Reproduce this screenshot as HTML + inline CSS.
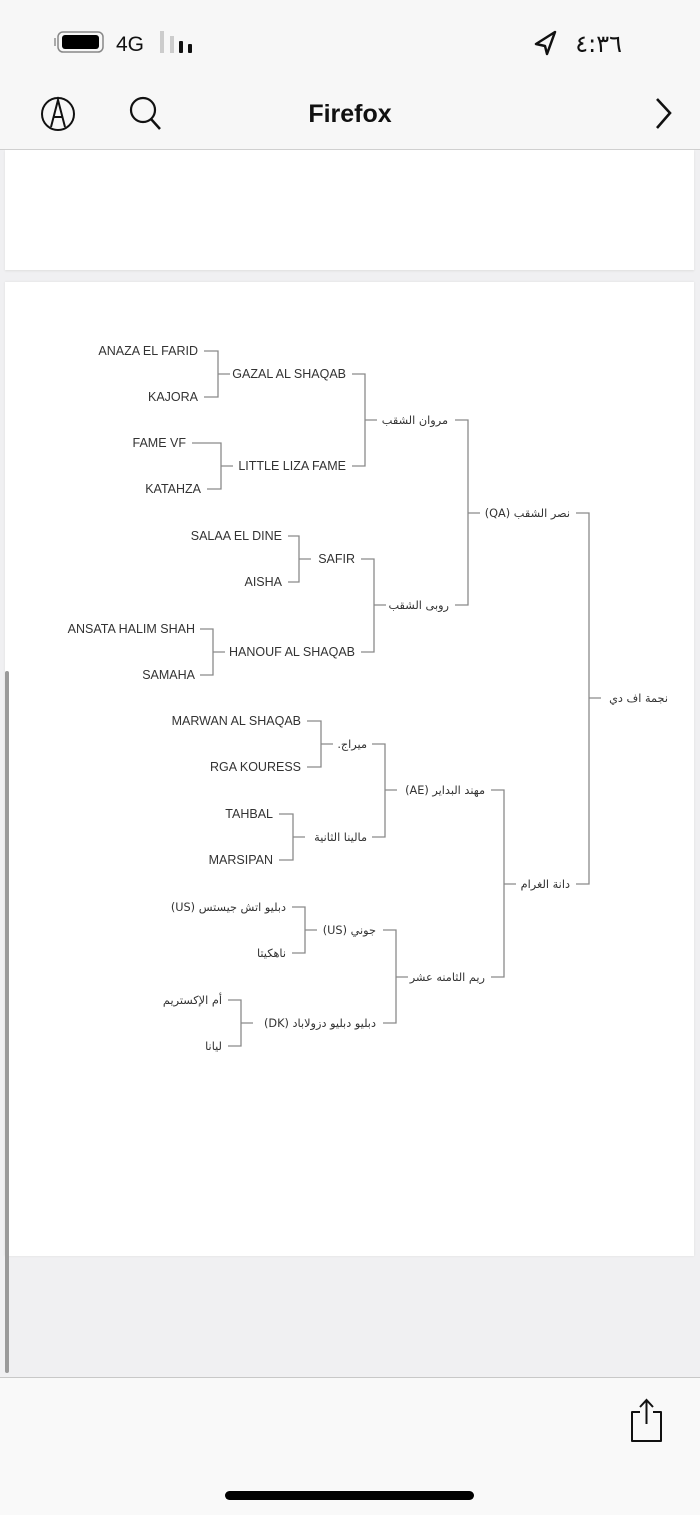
<!DOCTYPE html>
<html><head><meta charset="utf-8"><style>
html,body{margin:0;padding:0}
body{width:700px;height:1514px;background:#f0f0f2;position:relative;overflow:hidden;font-family:"Liberation Sans","DejaVu Sans",sans-serif}
.abs{position:absolute}
</style></head><body>
<div class="abs" style="left:0;top:0;width:700px;height:149px;background:#f7f7f7;border-bottom:1px solid #cfcfcf"></div>
<div class="abs" style="left:5px;top:150px;width:689px;height:120px;background:#fff;box-shadow:0 1px 2px #ddd"></div>
<div class="abs" style="left:5px;top:282px;width:689px;height:974px;background:#fff;box-shadow:0 0 2px #ddd"></div>
<div class="abs" style="left:5px;top:671px;width:4px;height:702px;background:#9a9a9a;border-radius:2px"></div>
<div class="abs" style="left:0;top:1377px;width:700px;height:137px;background:#f9f9f9;border-top:1px solid #c8c8c8"></div>
<div class="abs" style="left:225px;top:1491px;width:249px;height:9px;background:#000;border-radius:5px"></div>

<svg class="abs" style="left:0;top:0" width="700" height="1514" xmlns="http://www.w3.org/2000/svg">
 <rect x="58" y="32" width="45" height="20" rx="5" fill="none" stroke="#888" stroke-width="1.5"/>
 <rect x="62" y="35" width="37" height="14" rx="3" fill="#000"/>
 <rect x="54" y="38" width="2" height="8" fill="#aaa"/>
 <text x="116" y="51" font-size="21" fill="#111">4G</text>
 <rect x="160" y="31" width="4" height="22" fill="#ccc"/>
 <rect x="170" y="36" width="4" height="17" fill="#ccc"/>
 <rect x="179" y="41" width="4" height="12" rx="1" fill="#111"/>
 <rect x="188" y="44" width="4" height="9" rx="1" fill="#111"/>
 <path d="M555 32 L536 44 L545 46 L547 54 Z" fill="none" stroke="#111" stroke-width="2.5" stroke-linejoin="round"/>
 <text x="622" y="52" font-size="24" fill="#111" text-anchor="end" font-family="DejaVu Sans">٤:٣٦</text>
 <circle cx="58" cy="114" r="16" fill="none" stroke="#111" stroke-width="2"/>
 <path d="M51 127 L58 100 L65 127 M54 117 L62 117" fill="none" stroke="#111" stroke-width="2"/>
 <circle cx="143" cy="110" r="12" fill="none" stroke="#111" stroke-width="2.2"/>
 <line x1="151" y1="119" x2="160" y2="129" stroke="#111" stroke-width="2.5"/>
 <text x="350" y="122" font-size="25" font-weight="bold" fill="#111" text-anchor="middle">Firefox</text>
 <path d="M657 99 L670 113 L657 128" fill="none" stroke="#111" stroke-width="2.6"/>
 <path d="M640 1412 L632 1412 L632 1441 L661 1441 L661 1412 L653 1412" fill="none" stroke="#111" stroke-width="2" stroke-linejoin="round"/>
 <path d="M646.5 1424 L646.5 1401 M640 1407 L646.5 1400 L653 1407" fill="none" stroke="#111" stroke-width="2"/>

 <g stroke="#8a8a8a" stroke-width="1.3" fill="none">
  <path d="M204 351H218V397H204 M218 374H230 M352 374H365V466H352 M365 420H377"/>
  <path d="M192 443H221V489H207 M221 466H233"/>
  <path d="M288 536H299V582H288 M299 559H311 M361 559H374V652H361 M374 605H386"/>
  <path d="M200 629H213V675H200 M213 652H225"/>
  <path d="M455 420H468V605H455 M468 513H480 M576 513H589V884H576 M589 698H601"/>
  <path d="M307 721H321V767H307 M321 744H333 M372 744H385V837H372 M385 790H397"/>
  <path d="M279 814H293V860H279 M293 837H305"/>
  <path d="M491 790H504V977H491 M504 884H516"/>
  <path d="M292 907H305V953H292 M305 930H317 M383 930H396V1023H383 M396 977H408"/>
  <path d="M228 1000H241V1046H228 M241 1023H253"/>
 </g>
 <g font-size="12.5" fill="#333" text-anchor="end">
  <text x="198" y="355">ANAZA EL FARID</text>
  <text x="198" y="401">KAJORA</text>
  <text x="346" y="378">GAZAL AL SHAQAB</text>
  <text x="186" y="447">FAME VF</text>
  <text x="201" y="493">KATAHZA</text>
  <text x="346" y="470">LITTLE LIZA FAME</text>
  <text x="282" y="540">SALAA EL DINE</text>
  <text x="282" y="586">AISHA</text>
  <text x="355" y="563">SAFIR</text>
  <text x="195" y="633">ANSATA HALIM SHAH</text>
  <text x="195" y="679">SAMAHA</text>
  <text x="355" y="656">HANOUF AL SHAQAB</text>
  <text x="301" y="725">MARWAN AL SHAQAB</text>
  <text x="301" y="771">RGA KOURESS</text>
  <text x="273" y="818">TAHBAL</text>
  <text x="273" y="864">MARSIPAN</text>
 </g>
 <g font-size="11.3" fill="#333" text-anchor="end" font-family="'DejaVu Sans',sans-serif">
  <text x="448" y="424">مروان الشقب</text>
  <text x="449" y="609">روبى الشقب</text>
  <text x="570" y="517">(QA) نصر الشقب</text>
  <text x="668" y="702">نجمة اف دي</text>
  <text x="367" y="748">ميراج</text>
  <text x="341" y="748">.</text>
  <text x="367" y="841">مالينا الثانية</text>
  <text x="485" y="794">(AE) مهند البداير</text>
  <text x="286" y="911">(US) دبليو اتش جيستس</text>
  <text x="286" y="957">ناهكيتا</text>
  <text x="376" y="934">(US) جوني</text>
  <text x="222" y="1004">أم الإكستريم</text>
  <text x="222" y="1050">ليانا</text>
  <text x="376" y="1027">(DK) دبليو دبليو دزولاباد</text>
  <text x="485" y="981">ريم الثامنه عشر</text>
  <text x="570" y="888">دانة الغرام</text>
 </g>
</svg>
</body></html>
